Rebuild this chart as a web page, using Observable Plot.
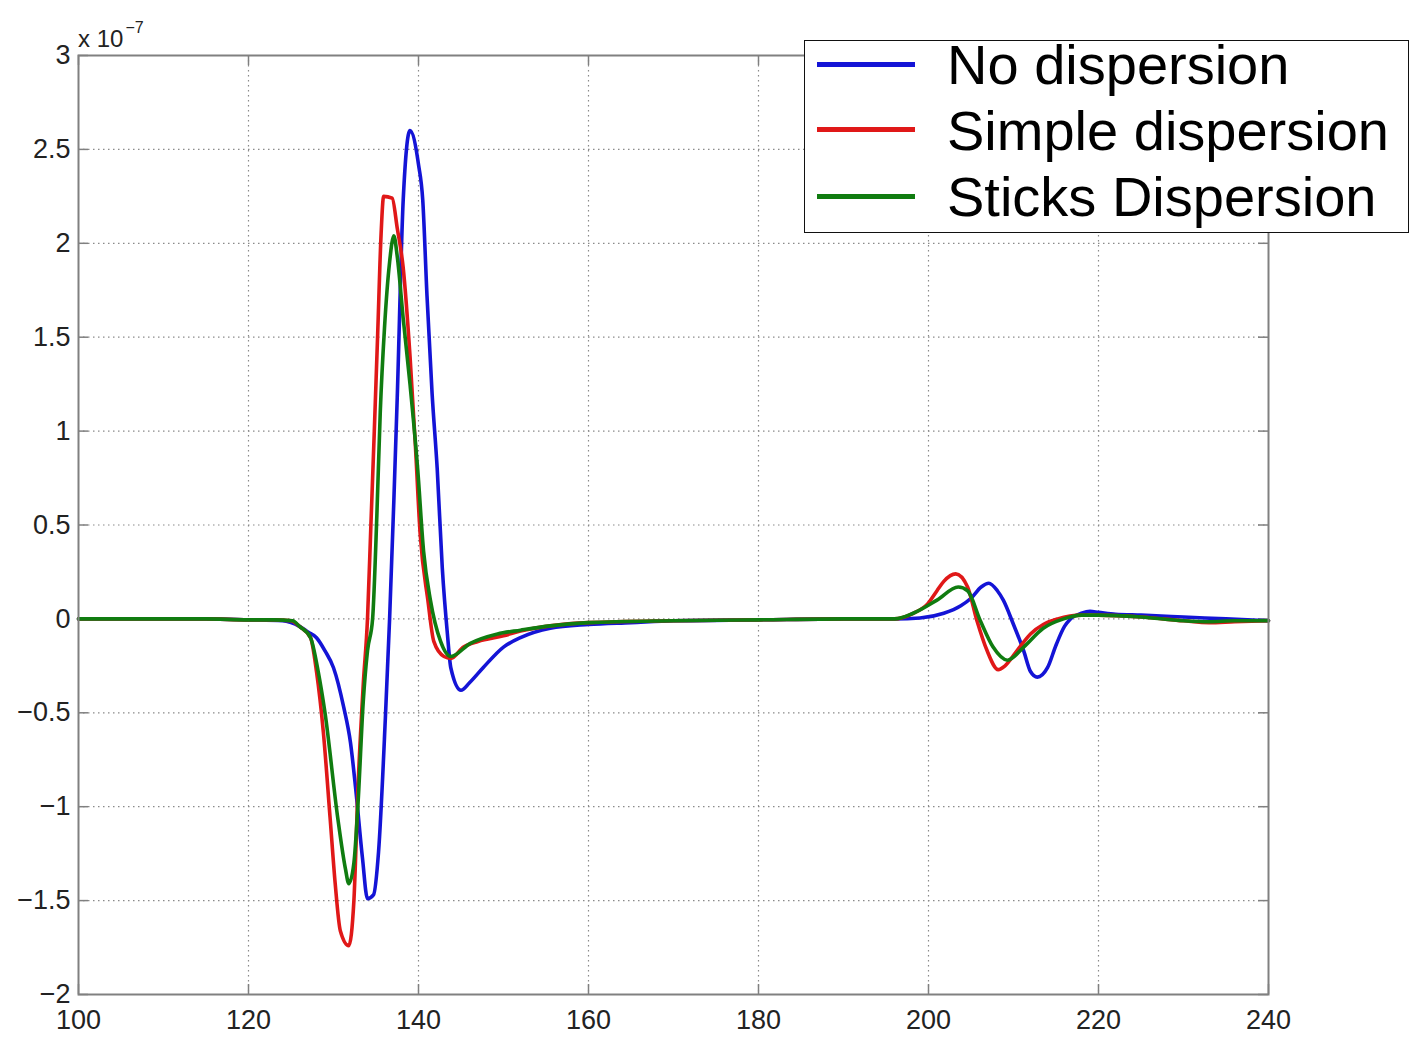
<!DOCTYPE html>
<html>
<head>
<meta charset="utf-8">
<script src="https://cdn.jsdelivr.net/npm/d3@7"></script>
<script src="https://cdn.jsdelivr.net/npm/@observablehq/plot@0.6"></script>
<style>
  html, body { margin: 0; padding: 0; background: #fff; overflow: hidden; }
  #wrap { position: relative; width: 1410px; height: 1037px; font-family: "Liberation Sans", Arial, sans-serif; }
  #wrap svg { position: absolute; left: 0; top: 0; }
  #exp { position: absolute; left: 78px; top: 19px; font-size: 24px; line-height: 28px; color: #222; white-space: nowrap; }
  #exp sup { font-size: 16px; position: relative; top: -5px; vertical-align: super; margin-left: 2px; }
  #legend { position: absolute; left: 804px; top: 40px; width: 603px; height: 191px; border: 1.5px solid #111; background: #fff; }
  .lg-line { position: absolute; left: 12px; width: 98px; height: 5px; }
  .lg-text { position: absolute; left: 142px; font-size: 56px; line-height: 56px; color: #000; white-space: nowrap; }
</style>
</head>
<body>
<div id="wrap">
  <div id="exp">x 10<sup>−7</sup></div>
</div>
<script>
// x ticks and y ticks (y in units of 1e-7)
const xTicks = [100, 120, 140, 160, 180, 200, 220, 240];
const yTicks = [-2, -1.5, -1, -0.5, 0, 0.5, 1, 1.5, 2, 2.5, 3];

const seriesNames = ["No dispersion", "Simple dispersion", "Sticks Dispersion"];
const seriesColors = ["#1414d6", "#e01818", "#107c10"];

// [x, y (×1e-7)]
const noDispersion = [
  [100,0],[115,0],[120,-0.005],[124,-0.01],[125,-0.02],[126,-0.04],[127,-0.07],[128,-0.1],[129,-0.17],
  [130,-0.26],[131.2,-0.47],[132,-0.66],[132.6,-0.9],[133.4,-1.27],[134,-1.49],[134.7,-1.47],
  [135.3,-1.24],[136.1,-0.53],[136.6,0],[137.1,0.63],[137.5,1.18],[138.2,2.23],[139,2.6],[140,2.42],
  [140.5,2.23],[141,1.72],[141.6,1.2],[142.2,0.8],[142.8,0.27],[143.4,-0.08],[143.8,-0.26],[145,-0.38],
  [146,-0.34],[147.6,-0.26],[150,-0.15],[152,-0.1],[155.5,-0.05],[160,-0.03],[165,-0.02],[170,-0.01],
  [180,-0.005],[190,0],[196,0],[199,0.005],[201.8,0.03],[203.8,0.07],[205,0.11],[206.2,0.17],[207.1,0.19],
  [208.1,0.15],[208.8,0.1],[210,-0.03],[211.2,-0.17],[212,-0.28],[212.8,-0.31],[214,-0.26],[215,-0.14],
  [216,-0.04],[216.7,0],[218,0.03],[219,0.04],[220,0.035],[222,0.025],[225,0.02],[230,0.01],[235,0],[240,-0.01]
];
const simpleDispersion = [
  [100,0],[115,0],[120,-0.005],[123,-0.005],[125,-0.01],[126,-0.04],[127.3,-0.1],[128,-0.28],[128.8,-0.6],
  [129.6,-1.06],[130.2,-1.41],[130.8,-1.66],[131.8,-1.74],[132.4,-1.5],[132.9,-0.88],[133.5,-0.35],[134,0],
  [134.4,0.5],[134.8,1.0],[135.2,1.52],[135.6,2.05],[135.9,2.25],[136.9,2.24],[137.5,2.08],[138.2,1.87],
  [139,1.4],[139.6,0.95],[140.2,0.45],[141.1,0.1],[141.8,-0.12],[143,-0.2],[143.8,-0.21],[145.3,-0.15],
  [147,-0.12],[150,-0.09],[152,-0.065],[155.5,-0.037],[160,-0.02],[170,-0.01],[180,-0.005],[190,0],[196,0],
  [198.2,0.03],[199.9,0.08],[201,0.15],[201.8,0.2],[203.2,0.24],[204.6,0.17],[205.7,-0.01],[206.9,-0.17],
  [208.2,-0.27],[209,-0.25],[210.4,-0.17],[212,-0.08],[213.5,-0.03],[215.2,0],[218,0.02],[220,0.02],
  [225,0.01],[230,-0.01],[233,-0.02],[236,-0.015],[240,-0.01]
];
const sticksDispersion = [
  [100,0],[115,0],[120,-0.005],[123,-0.005],[125.2,-0.01],[126,-0.04],[127.3,-0.1],[128.2,-0.28],
  [129,-0.5],[130.5,-1.06],[131.4,-1.33],[131.8,-1.41],[132.4,-1.3],[132.9,-0.97],[133.5,-0.44],
  [134,-0.17],[134.6,0],[135.1,0.55],[135.5,1.1],[136,1.55],[136.6,1.9],[137.1,2.04],[137.5,1.93],
  [138.2,1.6],[139,1.25],[139.9,0.8],[140.6,0.36],[141.4,0.1],[142.6,-0.12],[143.8,-0.2],[146.1,-0.13],
  [149.3,-0.08],[152,-0.06],[155.5,-0.037],[160,-0.02],[170,-0.01],[180,-0.005],[190,0],[196,0],
  [198.2,0.03],[201,0.1],[203.5,0.17],[204.6,0.15],[206.1,-0.01],[207.6,-0.15],[209.3,-0.22],
  [211.2,-0.15],[213.5,-0.05],[215.9,0],[218,0.02],[220,0.02],[225,0.01],[230,-0.01],[233,-0.015],
  [236,-0.01],[240,-0.01]
];

const allSeries = [noDispersion, simpleDispersion, sticksDispersion];
const W = 1410, H = 1037;
const mL = 78, mR = 142, mT = 55, mB = 43;
const innerW = W - mL - mR, innerH = H - mT - mB;
const fmt = d => (d < 0 ? "\u2212" + Math.abs(d) : String(d));

const lineMarks = allSeries.map((s, i) =>
  Plot.line(s, {x: d => d[0], y: d => d[1], stroke: seriesColors[i], strokeWidth: 3.6,
    strokeLinejoin: "round", curve: "monotone-x"})
);

const chart = Plot.plot({
  width: W, height: H,
  marginLeft: mL, marginRight: mR, marginTop: mT, marginBottom: mB,
  style: {background: "#fff", fontFamily: "'Liberation Sans', Arial, sans-serif", color: "#222", overflow: "visible"},
  x: {domain: [100, 240]},
  y: {domain: [-2, 3]},
  marks: [
    Plot.gridX(xTicks.slice(1, -1), {stroke: "#8a8a8a", strokeOpacity: 1, strokeWidth: 1.2, strokeDasharray: "1.5,3.5"}),
    Plot.gridY(yTicks.slice(1, -1), {stroke: "#8a8a8a", strokeOpacity: 1, strokeWidth: 1.2, strokeDasharray: "1.5,3.5"}),
    // inward tick marks on all four sides
    Plot.ruleX(xTicks, {stroke: "#808080", strokeWidth: 1.5, insetTop: innerH - 10}),
    Plot.ruleX(xTicks, {stroke: "#808080", strokeWidth: 1.5, insetBottom: innerH - 10}),
    Plot.ruleY(yTicks, {stroke: "#808080", strokeWidth: 1.5, insetRight: innerW - 10}),
    Plot.ruleY(yTicks, {stroke: "#808080", strokeWidth: 1.5, insetLeft: innerW - 10}),
    ...lineMarks,
    Plot.frame({stroke: "#808080", strokeWidth: 2}),
    Plot.axisX(xTicks, {tickSize: 0, tickPadding: 15, fontSize: 27, fill: "#222", tickFormat: fmt}),
    Plot.axisY(yTicks, {tickSize: 0, tickPadding: 8, fontSize: 27, fill: "#222", tickFormat: fmt})
  ]
});

const wrap = document.getElementById("wrap");
wrap.insertBefore(chart, wrap.firstChild);

// legend
const legend = document.createElement("div");
legend.id = "legend";
const lineTops = [21, 86, 153];
const textTops = [-4, 62, 128];
seriesNames.forEach((name, i) => {
  const ln = document.createElement("div");
  ln.className = "lg-line";
  ln.style.top = lineTops[i] + "px";
  ln.style.background = seriesColors[i];
  legend.appendChild(ln);
  const tx = document.createElement("div");
  tx.className = "lg-text";
  tx.style.top = textTops[i] + "px";
  tx.textContent = name;
  legend.appendChild(tx);
});
wrap.appendChild(legend);
</script>
</body>
</html>
